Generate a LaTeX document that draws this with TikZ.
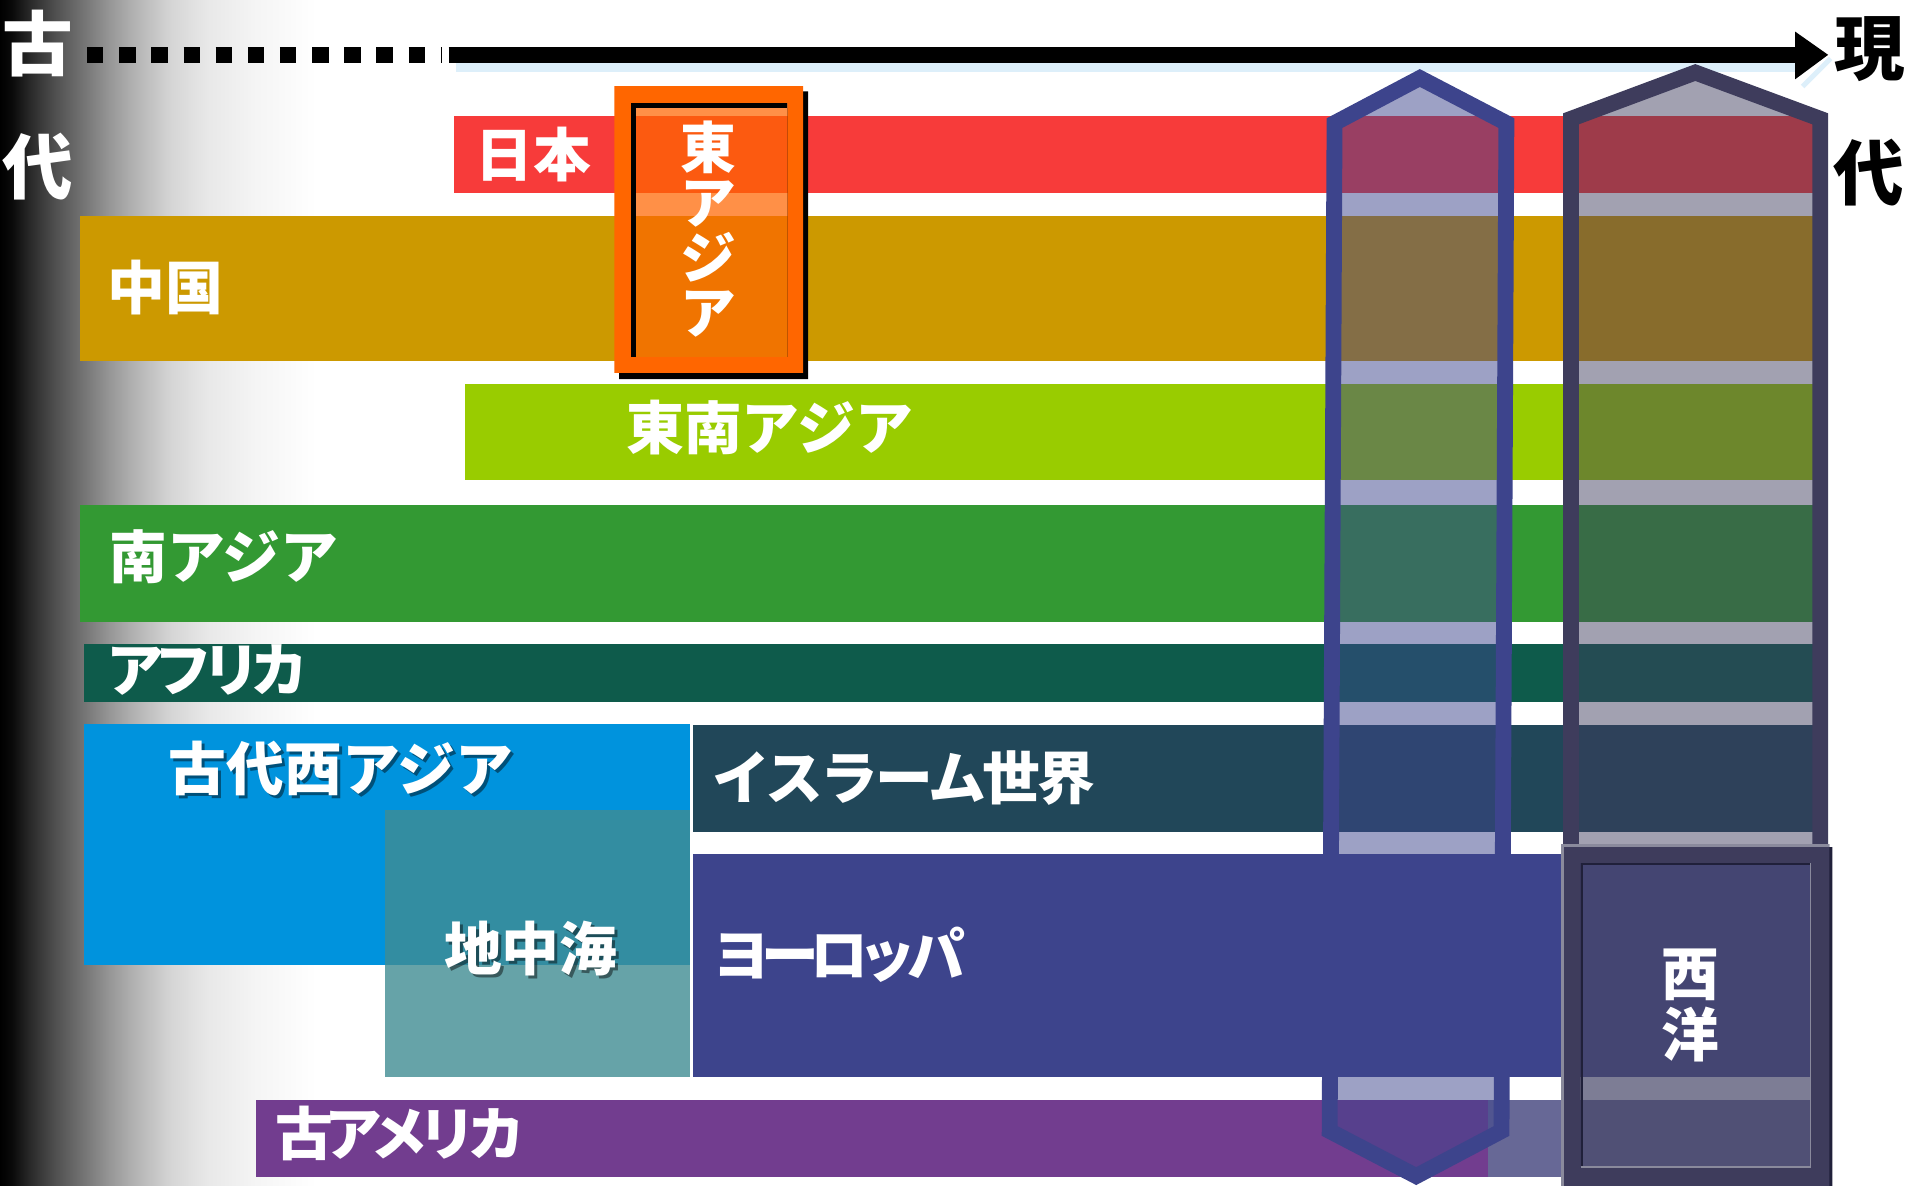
\documentclass[tikz,border=0pt]{standalone}
\usepackage{fontspec}
\newfontfamily\jp{Noto Sans CJK JP}
\definecolor{gr0}{gray}{0}
\definecolor{gr1}{gray}{0.04}
\definecolor{gr2}{gray}{0.165}
\definecolor{gr3}{gray}{0.31}
\definecolor{gr4}{gray}{0.44}
\definecolor{gr5}{gray}{0.59}
\definecolor{gr6}{gray}{0.70}
\definecolor{gr7}{gray}{0.835}
\definecolor{gr8}{gray}{0.91}
\definecolor{gr9}{gray}{0.96}
\definecolor{gr10}{gray}{1}
\pgfdeclarehorizontalshading{leftfade}{100bp}{color(0bp)=(gr0); color(25bp)=(gr0); color(26.92bp)=(gr1); color(29.81bp)=(gr2); color(33.65bp)=(gr3); color(37.69bp)=(gr4); color(42.31bp)=(gr5); color(46.15bp)=(gr6); color(51.92bp)=(gr7); color(57.69bp)=(gr8); color(65.38bp)=(gr9); color(75bp)=(gr10); color(100bp)=(gr10)}
\definecolor{cJapan}{HTML}{F73B3A}
\definecolor{cChina}{HTML}{CC9900}
\definecolor{cSEA}{HTML}{99CC00}
\definecolor{cSA}{HTML}{339933}
\definecolor{cAfr}{HTML}{0E5B4B}
\definecolor{cWA}{HTML}{0093DD}
\definecolor{cMed}{HTML}{408C93}
\definecolor{cIsl}{HTML}{214759}
\definecolor{cEur}{HTML}{3D448C}
\definecolor{cAm}{HTML}{723D8F}
\definecolor{cGrayP}{HTML}{676896}
\definecolor{cWest}{HTML}{3E3C5C}
\definecolor{cWestIn}{HTML}{474668}
\definecolor{cWestShadow}{HTML}{20203A}
\definecolor{cWestEdge}{HTML}{8A8A9C}
\definecolor{cOrange}{HTML}{FF6600}
\definecolor{tlshadow}{HTML}{DDEFFA}
\tikzset{
  lbl/.style={text=white, inner sep=0pt, anchor=west, font={\jp\bfseries\fontsize{27pt}{30pt}\selectfont}},
  lblshadow/.style={lbl, text=black, text opacity=0.45},
  edge/.style={inner sep=0pt, font={\jp\bfseries\fontsize{33pt}{36pt}\selectfont}},
  vtext/.style={text=white, inner sep=0pt, align=center},
  colline/.style={line width=0.26cm, line join=miter},
  axisline/.style={line width=0.26cm, line cap=butt}
}
\begin{document}
\begin{tikzpicture}[x=0.02cm,y=-0.02cm]
\useasboundingbox (0,0) rectangle (1568,973);
\fill[white] (0,0) rectangle (1568,973);
\shade[shading=leftfade] (0,0) rectangle (260,973);

% time axis
\coordinate (tA) at (71.4,45);
\coordinate (tB) at (363,45);
\coordinate (tC) at (368,45);
\coordinate (tD) at (1474,45);
\coordinate (tip) at (1500,45);
\fill[tlshadow] (374,52) rectangle (1473,59);
\draw[tlshadow, line width=0.08cm] (1502,48) -- (1479,71);
\draw[axisline, dash pattern=on 7.68pt off 7.34pt] (tA) -- (tB);
\draw[axisline] (tC) -- (tD);
\fill (tip) -- ++(-27,-19) -- ++(0,39) -- cycle;

\node[edge, text=white] (ko) at (31,36) {古};
\node[edge, text=white] (dai1) at (31,137) {代};
\node[edge, text=black] (gen) at (1534,40) {現};
\node[edge, text=black] (dai2) at (1533,142) {代};

% bars
\fill[cJapan] (372.5,95.2) rectangle (1490,158.6);
\fill[cChina] (65.9,177.2) rectangle (1490,296.3);
\fill[cSEA] (381.7,315) rectangle (1490,394);
\fill[cSA] (66,414.3) rectangle (1490,510);
\fill[cAfr] (69,528.4) rectangle (1490,576);
\fill[cWA] (69,594) rectangle (566,792);
\fill[cMed, fill opacity=0.8] (316,664.6) rectangle (566,884);
\fill[cIsl] (568.5,595) rectangle (1490,682.4);
\fill[cAm] (210,902.6) rectangle (1221,966);
\fill[cGrayP] (1221,902.6) rectangle (1490,966);

% columns
\fill[cEur, fill opacity=0.5] (1095,101) -- (1165,64) -- (1236,101) -- (1232,928) -- (1162,965) -- (1091,928) -- cycle;
\draw[cEur, colline] (1095,101) -- (1165,64) -- (1236,101) -- (1232,928) -- (1162,965) -- (1091,928) -- cycle;
\fill[cWest, fill opacity=0.48] (1289,700) -- (1289,97.5) -- (1391,59.5) -- (1493.5,97.5) -- (1493.5,700) -- cycle;
\draw[cWest, colline] (1289,700) -- (1289,97.5) -- (1391,59.5) -- (1493.5,97.5) -- (1493.5,700);

% Europe bar on top of the first column
\fill[cEur] (568.5,700.7) rectangle (1490,884);

% East Asia box
\fill[black, even odd rule] (508,75) rectangle (663,311) (518,84.5) rectangle (646,293);
\fill[cOrange, fill opacity=0.72] (518,84.5) rectangle (646,293);
\fill[cOrange, even odd rule] (504,70.6) rectangle (659,306) (518,84.5) rectangle (646,293);
\draw[black, line width=0.08cm] (519.8,293) -- (519.8,86.3) -- (645.5,86.3);

% West box
\fill[cWestShadow, even odd rule] (1284,695) rectangle (1503.5,975) (1297,708) rectangle (1486,958);
\fill[cWest, even odd rule] (1281,692.6) rectangle (1501,975) (1297,708) rectangle (1486,958);
\fill[cWestIn, fill opacity=0.7] (1297,708) rectangle (1486,958);
\draw[cWestShadow, line width=0.03cm] (1297.7,958) -- (1297.7,708.7) -- (1486,708.7);
\draw[cWestEdge, line width=0.02cm] (1297,957.5) -- (1485.5,957.5) -- (1485.5,708);
\draw[cWestEdge, line width=0.04cm] (1282,975) -- (1282,693.6) -- (1501,693.6);

% labels
\node[lbl] (japan) at (390,126.5) {日本};
\node[lbl] (china) at (88,236) {中国};
\node[lbl] (sea) at (513.5,350.6) {東南アジア};
\node[lbl] (sasia) at (89.6,456.7) {南アジア};
\node[lbl, font={\jp\bfseries\fontsize{27pt}{30pt}\selectfont\addfontfeature{LetterSpace=-17}}] (africa) at (86.8,550) {アフリカ};
\node[lblshadow] (wasiaS) at (140.5,633) {古代西アジア};
\node[lbl] (wasia) at (138,630.5) {古代西アジア};
\node[lblshadow] (medS) at (366.5,780.5) {地中海};
\node[lbl] (med) at (364,778) {地中海};
\node[lbl, font={\jp\bfseries\fontsize{27pt}{30pt}\selectfont\addfontfeature{LetterSpace=-5.5}}] (islam) at (584.6,638.6) {イスラーム世界};
\node[lbl, font={\jp\bfseries\fontsize{27pt}{30pt}\selectfont\addfontfeature{LetterSpace=-16}}] (europe) at (584.6,783) {ヨーロッパ};
\node[lbl, font={\jp\bfseries\fontsize{27pt}{30pt}\selectfont\addfontfeature{LetterSpace=-16}}] (america) at (226,930) {古アメリカ};

\node[vtext, font={\jp\bfseries\fontsize{26pt}{25.8pt}\selectfont\lineskiplimit=-50pt}] (eastasia) at (581,188) {東\\ア\\ジ\\ア};
\node[vtext, font={\jp\bfseries\fontsize{27pt}{28.4pt}\selectfont\lineskiplimit=-50pt}] (west) at (1387,825) {西\\洋};
\end{tikzpicture}
\end{document}
